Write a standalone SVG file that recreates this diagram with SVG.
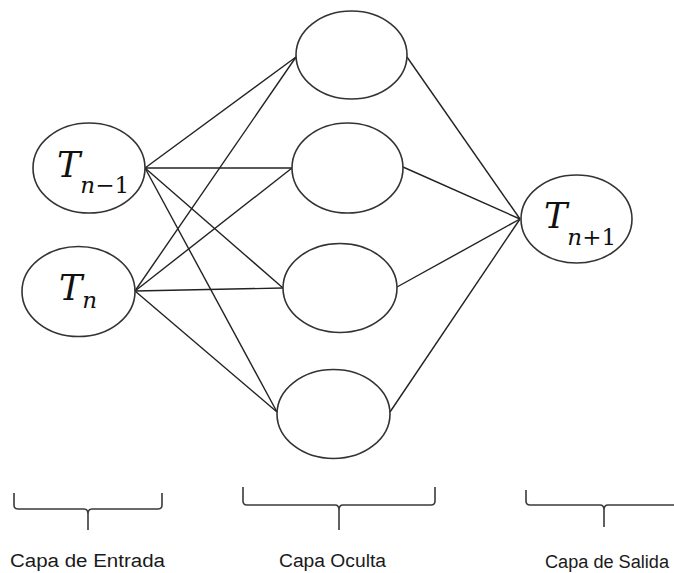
<svg xmlns="http://www.w3.org/2000/svg" width="674" height="573" viewBox="0 0 674 573">
<style>
.node{fill:#fff;stroke:#333;stroke-width:1.6}
.edge{stroke:#222;stroke-width:1.4;fill:none}
.br{stroke:#3a3a3a;stroke-width:1.6;fill:none}
.m{font-family:"DejaVu Serif","Liberation Serif",serif;font-style:italic;fill:#111;font-size:35px}
.mu{font-style:normal}
.sub{font-size:23px}
.lbl{font-family:"Liberation Sans","Open Sans",sans-serif;font-size:18px;fill:#1a1a1a}
</style>
<rect width="674" height="573" fill="#fff"/>
<g id="connectors">
<line class="edge" x1="145" y1="168" x2="296" y2="57"/>
<line class="edge" x1="145" y1="168" x2="292" y2="168"/>
<line class="edge" x1="145" y1="168" x2="283" y2="288"/>
<line class="edge" x1="145" y1="168" x2="277" y2="412"/>
<line class="edge" x1="135" y1="291" x2="296" y2="57"/>
<line class="edge" x1="135" y1="291" x2="292" y2="168"/>
<line class="edge" x1="135" y1="291" x2="283" y2="288"/>
<line class="edge" x1="135" y1="291" x2="277" y2="412"/>
<line class="edge" x1="407" y1="57" x2="520" y2="219"/>
<line class="edge" x1="403" y1="167" x2="520" y2="219"/>
<line class="edge" x1="397" y1="287" x2="520" y2="219"/>
<line class="edge" x1="390" y1="412" x2="520" y2="219"/>
</g>
<g id="in1">
<ellipse class="node" cx="89" cy="168" rx="56" ry="45"/>
<text class="m" x="57" y="177">T<tspan class="sub" dy="16">n</tspan><tspan class="sub mu">−1</tspan></text>
</g>
<g id="in2">
<ellipse class="node" cx="78.5" cy="291.5" rx="56.5" ry="45"/>
<text class="m" x="59" y="300">T<tspan class="sub" dy="8">n</tspan></text>
</g>
<g id="h1"><ellipse class="node" cx="351.5" cy="55" rx="55.5" ry="44"/></g>
<g id="h2"><ellipse class="node" cx="347.5" cy="168" rx="55.5" ry="45"/></g>
<g id="h3"><ellipse class="node" cx="340" cy="288" rx="57" ry="44.5"/></g>
<g id="h4"><ellipse class="node" cx="333.5" cy="414" rx="56.5" ry="44.5"/></g>
<g id="out">
<ellipse class="node" cx="576.5" cy="219" rx="55.5" ry="44"/>
<text class="m" x="544" y="228">T<tspan class="sub" dy="17">n</tspan><tspan class="sub mu">+1</tspan></text>
</g>
<g id="bracket-entrada">
<path class="br" d="M14,493 V505 Q14,509 18,509 H84 Q88,509 88,514 V530 M88,514 Q88,509 92,509 H158 Q162,509 162,505 V493"/>
<text class="lbl" x="10" y="567" font-size="19" textLength="155" lengthAdjust="spacingAndGlyphs">Capa de Entrada</text>
</g>
<g id="bracket-oculta">
<path class="br" d="M243,487 V501 Q243,505 247,505 H335 Q339,505 339,510 V530 M339,510 Q339,505 343,505 H431 Q435,505 435,501 V487"/>
<text class="lbl" x="279" y="567" textLength="107" lengthAdjust="spacingAndGlyphs">Capa Oculta</text>
</g>
<g id="bracket-salida">
<path class="br" d="M526,490 V501 Q526,505 530,505 H600 Q604,505 604,510 V527 M604,510 Q604,505 608,505 H680"/>
<text class="lbl" x="545" y="568" textLength="124" lengthAdjust="spacingAndGlyphs">Capa de Salida</text>
</g>
</svg>
